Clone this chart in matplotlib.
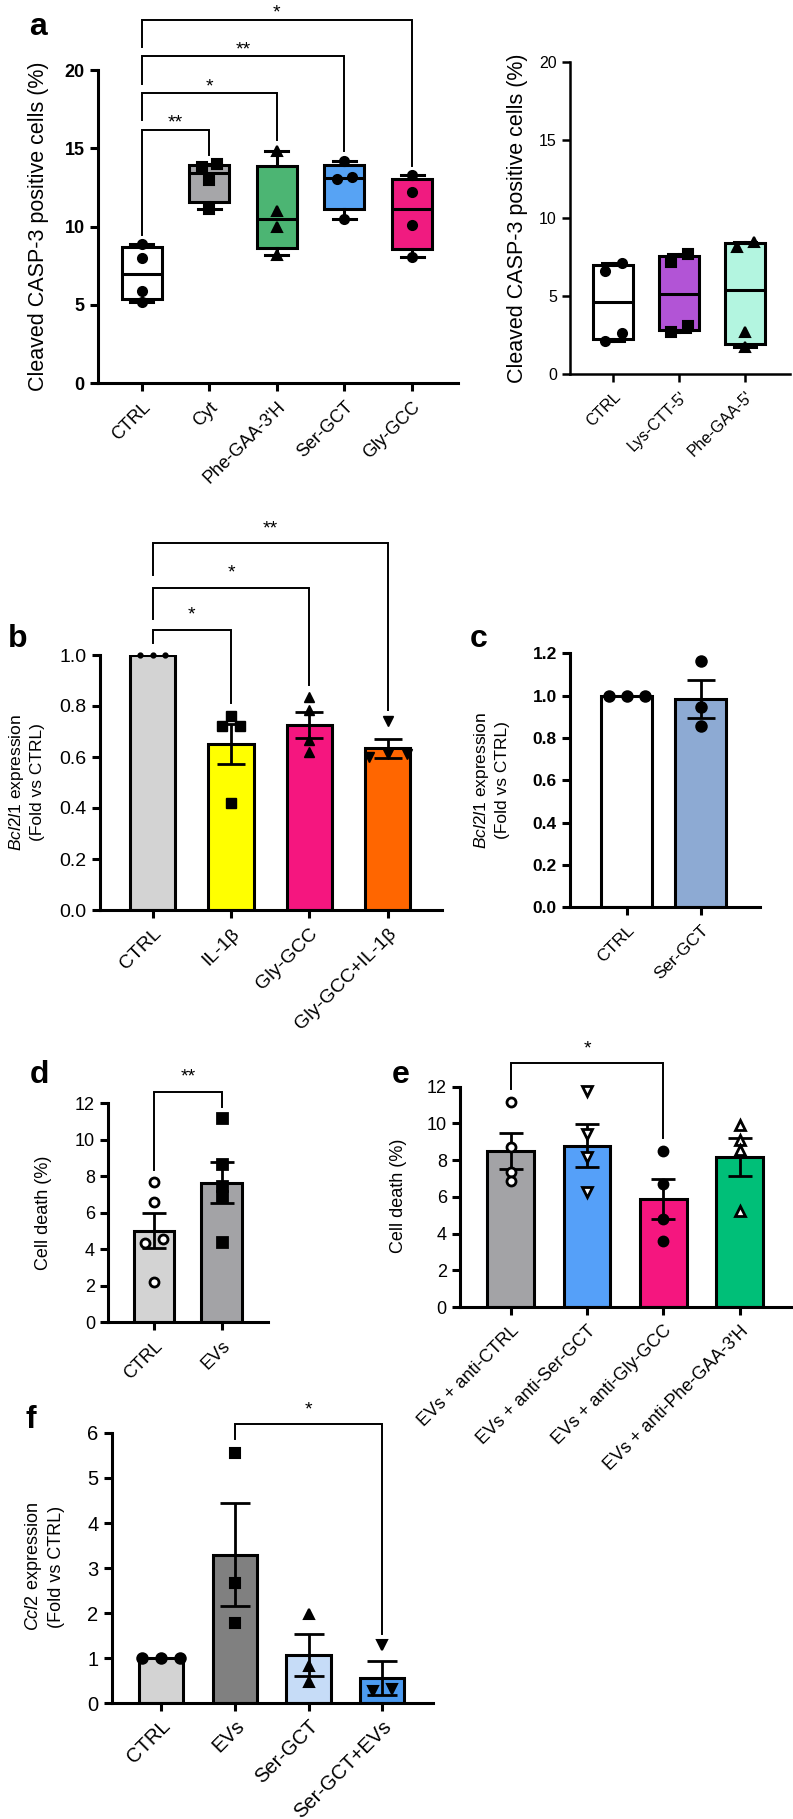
import numpy as np
import matplotlib
matplotlib.use("Agg")
import matplotlib.pyplot as plt
from matplotlib.ticker import FormatStrFormatter

plt.rcParams['font.family'] = ['Liberation Sans', 'DejaVu Sans']
plt.rcParams['mathtext.fontset'] = 'custom'
plt.rcParams['mathtext.rm'] = 'Liberation Sans'
plt.rcParams['mathtext.it'] = 'Liberation Sans:italic'

W, H = 793, 1819

# ---------------- data ----------------
# a (left): box plots
a1_labels = ["CTRL", "Cyt", "Phe-GAA-3'H", "Ser-GCT", "Gly-GCC"]
a1_values = [[8.9, 8.0, 5.9, 5.2],
             [14.0, 13.8, 13.0, 11.1],
             [14.85, 11.0, 10.0, 8.2],
             [14.2, 13.2, 13.05, 10.5],
             [13.3, 12.2, 10.1, 8.05]]
a1_colors = ['white', '#A6A6A9', '#4CB573', '#57A3F4', '#F01B80']
a1_markers = ['o', 's', '^', 'o', 'o']
a1_pairs = [(0, 1), (0, 2), (0, 3), (0, 4)]
a1_brk_top = [16.2, 18.5, 20.9, 23.2]
a1_brk_left = [9.45, 16.8, 19.1, 21.5]
a1_brk_right = [14.6, 15.5, 14.8, 13.9]
a1_stars = ['**', '*', '**', '*']
a1_yticks = [0, 5, 10, 15, 20]

# a (right): box plots
a2_labels = ["CTRL", "Lys-CTT-5'", "Phe-GAA-5'"]
a2_values = [[7.1, 6.6, 2.6, 2.1],
             [7.7, 7.2, 3.05, 2.7],
             [8.45, 8.15, 2.65, 1.7]]
a2_colors = ['white', '#B254D6', '#B3F5E0']
a2_markers = ['o', 's', '^']
a2_yticks = [0, 5, 10, 15, 20]

# b: Bcl2l1 expression
b_labels = ["CTRL", "IL-1\u03b2", "Gly-GCC", "Gly-GCC+IL-1\u03b2"]
b_means = [1.0, 0.651, 0.725, 0.634]
b_sems = [0.0, 0.078, 0.052, 0.038]
b_points = [[1.0, 1.0, 1.0],
            [0.761, 0.722, 0.722, 0.418],
            [0.837, 0.784, 0.667, 0.62],
            [0.741, 0.61, 0.60, 0.61]]
b_colors = ['#D3D3D3', '#FFFF00', '#F5167F', '#FF6600']
b_markers = ['o', 's', '^', 'v']
b_pairs = [(0, 1), (0, 2), (0, 3)]
b_brk_top = [1.098, 1.264, 1.438]
b_brk_left = [1.048, 1.14, 1.314]
b_brk_right = [0.81, 0.882, 0.784]
b_stars = ['*', '*', '**']
b_yticks = [0.0, 0.2, 0.4, 0.6, 0.8, 1.0]

# c: Bcl2l1 expression
c_labels = ["CTRL", "Ser-GCT"]
c_means = [1.0, 0.985]
c_sems = [0.0, 0.09]
c_points = [[1.0, 1.0, 1.0], [1.164, 0.944, 0.857]]
c_colors = ['white', '#8DAAD3']
c_yticks = [0.0, 0.2, 0.4, 0.6, 0.8, 1.0, 1.2]

# d: cell death
d_labels = ["CTRL", "EVs"]
d_means = [5.02, 7.65]
d_sems = [0.97, 1.12]
d_points = [[7.67, 6.61, 4.55, 4.36, 2.22],
            [11.18, 8.67, 7.48, 6.92, 4.42]]
d_colors = ['#D3D3D3', '#A3A3A6']
d_markers = ['o', 's']
d_fills = ['white', 'black']
d_yticks = [0, 2, 4, 6, 8, 10, 12]

# e: cell death
e_labels = ["EVs + anti-CTRL", "EVs + anti-Ser-GCT", "EVs + anti-Gly-GCC", "EVs + anti-Phe-GAA-3'H"]
e_means = [8.5, 8.79, 5.87, 8.17]
e_sems = [0.96, 1.17, 1.1, 1.03]
e_points = [[11.18, 8.71, 7.37, 6.85],
            [11.78, 9.41, 8.19, 6.28],
            [8.51, 6.68, 4.78, 3.59],
            [9.91, 9.1, 8.55, 5.23]]
e_colors = ['#A3A3A6', '#55A0F9', '#F5167F', '#00BF78']
e_markers = ['o', 'v', 'o', '^']
e_fills = ['white', 'white', 'black', 'white']
e_yticks = [0, 2, 4, 6, 8, 10, 12]

# f: Ccl2 expression
f_labels = ["CTRL", "EVs", "Ser-GCT", "Ser-GCT+EVs"]
f_means = [1.0, 3.30, 1.07, 0.57]
f_sems = [0.0, 1.15, 0.46, 0.38]
f_points = [[1.0, 1.0, 1.0],
            [5.56, 2.66, 1.78],
            [1.99, 0.83, 0.47],
            [1.30, 0.31, 0.28]]
f_colors = ['#D3D3D3', '#808080', '#C6DCF7', '#4D9BF0']
f_markers = ['o', 's', '^', 'v']
f_yticks = [0, 1, 2, 3, 4, 5, 6]


# ---------------- helpers ----------------
fig = plt.figure(figsize=(W / 100, H / 100), dpi=100)


def make_ax(x0, x1, ytop, ybot):
    ax = fig.add_axes([x0 / W, 1 - ybot / H, (x1 - x0) / W, (ybot - ytop) / H])
    ax.patch.set_visible(False)
    return ax


def style(ax, lw=2.2, ticksize=12, bold=False, xpad=5):
    for s in ['top', 'right']:
        ax.spines[s].set_visible(False)
    for s in ['left', 'bottom']:
        ax.spines[s].set_linewidth(lw)
    ax.tick_params(direction='out', length=6, width=lw, labelsize=ticksize)
    ax.tick_params(axis='x', pad=xpad)
    if bold:
        for t in ax.get_yticklabels():
            t.set_fontweight('bold')


def spread(vals, thr, step=0.22):
    vals = np.asarray(vals, dtype=float)
    order = np.argsort(vals)
    offs = np.zeros(len(vals))
    groups, cur = [], [order[0]]
    for k in order[1:]:
        if abs(vals[k] - vals[cur[-1]]) < thr:
            cur.append(k)
        else:
            groups.append(cur)
            cur = [k]
    groups.append(cur)
    for g in groups:
        for j, k in enumerate(g):
            offs[k] = (j - (len(g) - 1) / 2) * step
    return offs


def draw_points(ax, data, markers, fills, thr, ms, mew=1.5, step=0.22):
    for i, (v, m, f) in enumerate(zip(data, markers, fills)):
        offs = spread(v, thr, step)
        ax.plot(i + offs, v, ls='none', marker=m, mfc=f, mec='black',
                ms=ms, mew=mew, zorder=5, clip_on=False)


def draw_brackets(ax, pairs, tops, lefts, rights, stars, lw=1.4, size=14, off=4):
    for (i, j), t, l, r, s in zip(pairs, tops, lefts, rights, stars):
        ax.plot([i, i, j, j], [l, t, t, r], color='black', lw=lw,
                clip_on=False, solid_joinstyle='miter', zorder=6)
        ax.annotate(s, xy=((i + j) / 2, t), xytext=(0, off), textcoords='offset points',
                    ha='center', va='bottom', fontsize=size, annotation_clip=False)


def box_stats(v):
    q1, med, q3 = np.percentile(v, [25, 50, 75], method='weibull')
    return dict(med=med, q1=q1, q3=q3, whislo=min(v), whishi=max(v), fliers=[])


def draw_boxes(ax, values, colors, width, lw=2.2):
    bp = ax.bxp([box_stats(v) for v in values], positions=range(len(values)),
                widths=width, patch_artist=True, showfliers=False,
                boxprops=dict(linewidth=lw, edgecolor='black'),
                medianprops=dict(color='black', linewidth=lw),
                whiskerprops=dict(linewidth=lw), capprops=dict(linewidth=lw),
                capwidths=0.34, manage_ticks=False)
    for patch, c in zip(bp['boxes'], colors):
        patch.set_facecolor(c)


def draw_bars(ax, means, sems, colors, width, capsize, lw=2.2):
    x = np.arange(len(means))
    ax.bar(x, means, width, color=colors, edgecolor='black', linewidth=lw, zorder=2)
    ax.errorbar(x, means, yerr=sems, fmt='none', ecolor='black', elinewidth=2,
                capsize=capsize, capthick=2, zorder=4)


def xlabels(ax, labels, size):
    ax.set_xticks(range(len(labels)))
    ax.set_xticklabels(labels, rotation=45, ha='right', rotation_mode='anchor', fontsize=size)


def ylab(x, y, text, size, ls=1.2):
    fig.text(x / W, 1 - y / H, text, rotation=90, ha='center', va='center',
             fontsize=size, linespacing=ls)


def panel(x, y, letter):
    fig.text(x / W, 1 - y / H, letter, fontsize=23, fontweight='bold',
             ha='left', va='baseline')


# ---------------- a (left) ----------------
ax = make_ax(97.7, 458, 70, 383.3)
draw_boxes(ax, a1_values, a1_colors, 0.59)
draw_points(ax, a1_values, a1_markers, ['black'] * 5, 0.6, 6.5, step=0.22)
ax.set_xlim(-0.65, 4.68)
ax.set_ylim(0, 20)
ax.set_yticks(a1_yticks)
xlabels(ax, a1_labels, 13)
style(ax, ticksize=13, bold=True)
draw_brackets(ax, a1_pairs, a1_brk_top, a1_brk_left, a1_brk_right, a1_stars, off=-1.5)
ylab(39, 226, "Cleaved CASP-3 positive cells (%)", 15.5)
panel(29, 35, 'a')

# ---------------- a (right) ----------------
ax = make_ax(570, 790, 62.3, 373.7)
draw_boxes(ax, a2_values, a2_colors, 0.6)
draw_points(ax, a2_values, a2_markers, ['black'] * 3, 0.6, 6.5, step=0.26)
ax.set_xlim(-0.656, 2.68)
ax.set_ylim(0, 20)
ax.set_yticks(a2_yticks)
xlabels(ax, a2_labels, 12.5)
style(ax, lw=1.8, ticksize=11.5)
ylab(517, 218, "Cleaved CASP-3 positive cells (%)", 15.5)

# ---------------- b ----------------
ax = make_ax(100, 441.8, 655, 910)
draw_bars(ax, b_means, b_sems, b_colors, 0.58, 10)
draw_points(ax, b_points[:1], b_markers[:1], ['black'], 0.03, 3, step=0.16)
for i in range(1, 4):
    offs = spread(b_points[i], 0.03, 0.24)
    ax.plot(i + offs, b_points[i], ls='none', marker=b_markers[i], mfc='black',
            mec='black', ms=7, zorder=5, clip_on=False)
ax.set_xlim(-0.673, 3.69)
ax.set_ylim(0, 1.0)
ax.set_yticks(b_yticks)
ax.yaxis.set_major_formatter(FormatStrFormatter('%.1f'))
xlabels(ax, b_labels, 13)
style(ax, ticksize=14)
draw_brackets(ax, b_pairs, b_brk_top, b_brk_left, b_brk_right, b_stars, off=4.5)
ylab(26, 782, "$\\mathit{Bcl2l1}$ expression\n(Fold vs CTRL)", 12.5, ls=1.35)
panel(8, 647, 'b')

# ---------------- c ----------------
ax = make_ax(570, 759.7, 653.3, 907.3)
draw_bars(ax, c_means, c_sems, c_colors, 0.69, 10)
draw_points(ax, c_points, ['o', 'o'], ['black', 'black'], 0.036, 7.5, step=0.24)
ax.set_xlim(-0.77, 1.8)
ax.set_ylim(0, 1.2)
ax.set_yticks(c_yticks)
ax.yaxis.set_major_formatter(FormatStrFormatter('%.1f'))
xlabels(ax, c_labels, 13)
style(ax, ticksize=12.5, bold=True)
ylab(491, 780, "$\\mathit{Bcl2l1}$ expression\n(Fold vs CTRL)", 12.5, ls=1.35)
panel(470, 647, 'c')

# ---------------- d ----------------
ax = make_ax(108.3, 268.3, 1103.3, 1322.3)
draw_bars(ax, d_means, d_sems, d_colors, 0.6, 8.5)
draw_points(ax, d_points, d_markers, d_fills, 0.36, 6.5, mew=2, step=0.26)
ax.set_xlim(-0.675, 1.69)
ax.set_ylim(0, 12)
ax.set_yticks(d_yticks)
xlabels(ax, d_labels, 12.5)
style(ax, ticksize=13)
draw_brackets(ax, [(0, 1)], [12.64], [8.35], [11.78], ['**'], off=4.5)
ylab(43, 1213, "Cell death (%)", 13)
panel(30, 1083, 'd')

# ---------------- e ----------------
ax = make_ax(460, 793, 1086.7, 1307)
draw_bars(ax, e_means, e_sems, e_colors, 0.61, 8.5)
draw_points(ax, e_points, e_markers, e_fills, 0.36, 6.5, mew=2, step=0.26)
ax.set_xlim(-0.665, 3.70)
ax.set_ylim(0, 12)
ax.set_yticks(e_yticks)
xlabels(ax, e_labels, 11.5)
style(ax, ticksize=13)
draw_brackets(ax, [(0, 2)], [13.27], [11.9], [9.19], ['*'], off=4.5)
ylab(398, 1196, "Cell death (%)", 13)
panel(392, 1083, 'e')

# ---------------- f ----------------
ax = make_ax(111.7, 432.5, 1432.9, 1703.4)
draw_bars(ax, f_means, f_sems, f_colors, 0.6, 11)
draw_points(ax, f_points, f_markers, ['black'] * 4, 0.18, 7.5, step=0.26)
ax.set_xlim(-0.668, 3.68)
ax.set_ylim(0, 6)
ax.set_yticks(f_yticks)
xlabels(ax, f_labels, 12)
style(ax, ticksize=14.5, xpad=3.5)
draw_brackets(ax, [(1, 3)], [6.19], [5.87], [1.55], ['*'], off=4.5)
ylab(44, 1567, "$\\mathit{Ccl2}$ expression\n(Fold vs CTRL)", 13, ls=1.25)
panel(26, 1428, 'f')

fig.savefig("out.png", dpi=100)
